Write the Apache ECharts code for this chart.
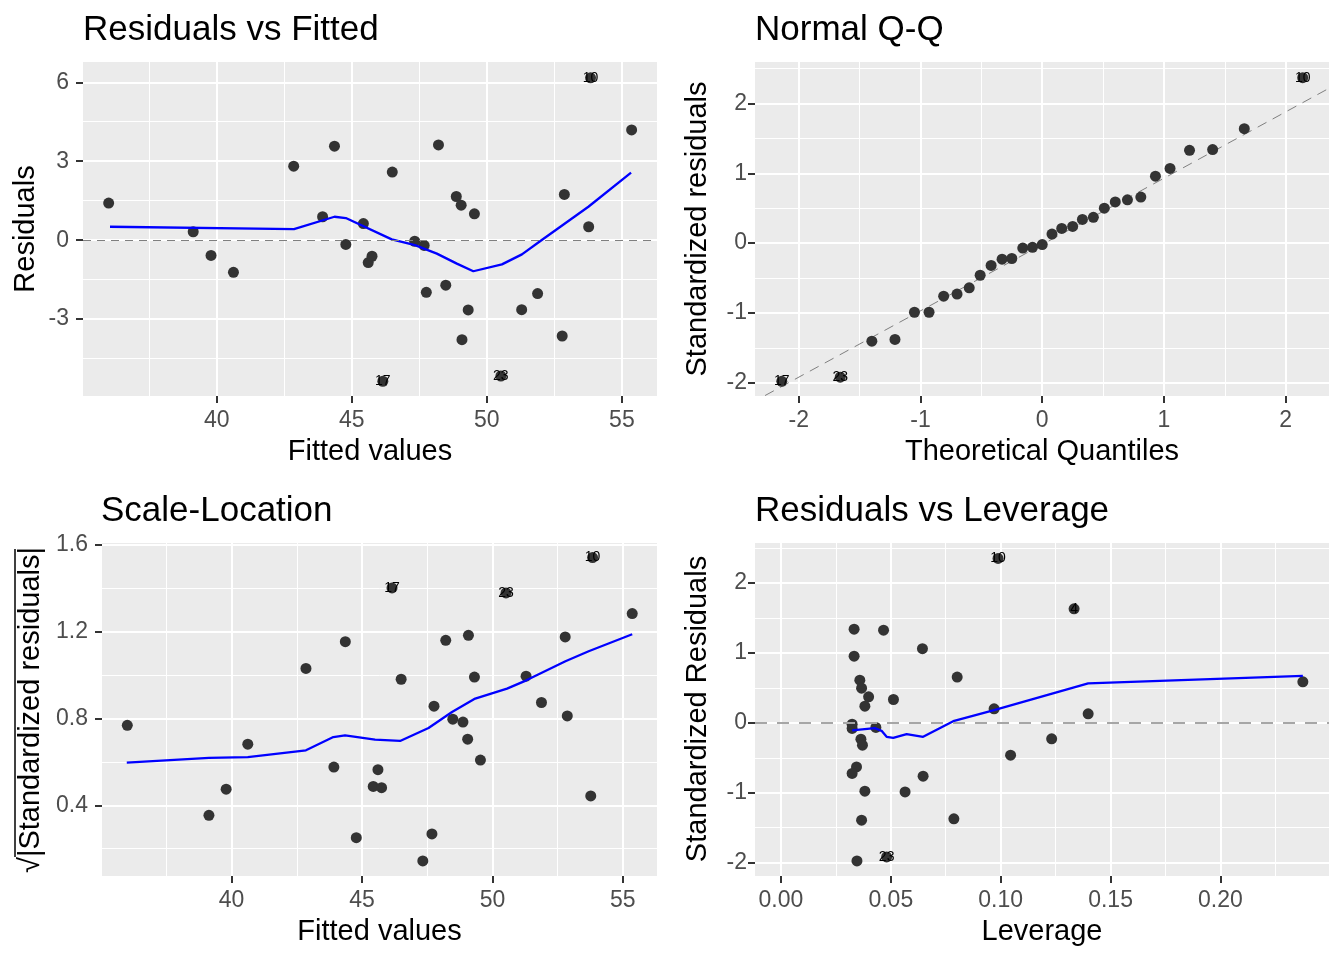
<!DOCTYPE html>
<html><head><meta charset="utf-8">
<script src="https://cdn.jsdelivr.net/npm/echarts@6/dist/echarts.min.js"></script>
<style>html,body{margin:0;padding:0;background:#fff}#c{width:1344px;height:960px}</style>
</head><body><div id="c"></div>
<script>
// ---- Data ----
const fitted = [36.00,39.13,39.79,40.62,42.85,43.92,44.36,44.78,45.43,45.61,45.75,46.15,46.50,47.33,47.68,47.76,48.21,48.48,48.87,49.05,49.08,49.31,49.54,50.52,51.29,51.88,52.79,52.87,53.77,53.84,55.36];
const residuals = [1.41,0.32,-0.58,-1.22,2.81,0.89,3.57,-0.16,0.63,-0.85,-0.61,-5.36,2.59,-0.04,-0.20,-1.98,3.62,-1.71,1.66,1.33,-3.78,-2.65,1.00,-5.16,-2.64,-2.03,-3.64,1.74,0.51,6.17,4.19];
const sqrtStdResid = [0.768,0.354,0.474,0.681,1.03,0.576,1.153,0.251,0.487,0.564,0.481,1.40,0.98,0.144,0.268,0.856,1.159,0.796,0.783,0.704,1.182,0.99,0.608,1.377,0.994,0.873,1.175,0.811,0.443,1.54,1.282];
const obsLabels = [null,null,null,null,null,null,null,null,null,null,null,'17',null,null,null,null,null,null,null,null,null,null,null,'23',null,null,null,null,null,'10',null];

const theoQuantiles = [-2.14,-1.66,-1.40,-1.21,-1.05,-0.93,-0.81,-0.70,-0.60,-0.51,-0.42,-0.33,-0.25,-0.16,-0.08,0,0.08,0.16,0.25,0.33,0.42,0.51,0.60,0.70,0.81,0.93,1.05,1.21,1.40,1.66,2.14];
const qqStdResid = [-1.98,-1.92,-1.405,-1.38,-0.99,-0.99,-0.76,-0.73,-0.64,-0.46,-0.32,-0.23,-0.22,-0.07,-0.06,-0.02,0.13,0.21,0.24,0.34,0.37,0.50,0.59,0.62,0.66,0.96,1.07,1.33,1.34,1.64,2.37];
const qqLabels = ['17','23',null,null,null,null,null,null,null,null,null,null,null,null,null,null,null,null,null,null,null,null,null,null,null,null,null,null,null,null,'10'];
const qqLineX = [-2.4, 2.4];
const qqLineY = [-2.30, 2.26];

const leverage = [0.0333,0.0467,0.0644,0.0333,0.0802,0.0359,0.0367,0.0399,0.0512,0.0382,0.0970,0.0324,0.0324,0.0432,0.0364,0.0371,0.0344,0.0324,0.0647,0.0382,0.0565,0.0367,0.0787,0.0346,0.0481,0.0988,0.1045,0.1232,0.1398,0.1334,0.2375];
const levStdResid = [1.34,1.326,1.06,0.954,0.654,0.61,0.496,0.372,0.334,0.239,0.20,-0.019,-0.08,-0.066,-0.233,-0.319,-0.63,-0.724,-0.763,-0.977,-0.987,-1.392,-1.373,-1.974,-1.917,2.352,-0.462,-0.229,0.129,1.631,0.587];
const levLabels = [null,null,null,null,null,null,null,null,null,null,null,null,null,null,null,null,null,null,null,null,null,null,null,null,'23','10',null,null,null,'4',null];

const smoothFittedX = [36.05,42.86,44.36,44.78,46.48,47.34,48.15,48.89,49.50,50.56,51.30,51.97,53.76,55.34];
const smoothResidY  = [0.51,0.42,0.89,0.84,0.03,-0.19,-0.51,-0.89,-1.18,-0.92,-0.54,-0.04,1.27,2.57];
const smoothScaleX = [35.98,39.13,40.62,42.85,43.90,44.35,45.50,46.46,47.55,48.45,49.34,50.56,51.30,52.80,53.69,55.36];
const smoothScaleY = [0.596,0.618,0.622,0.653,0.714,0.722,0.702,0.696,0.756,0.829,0.891,0.937,0.975,1.063,1.109,1.187];
const smoothLevX = [0.0324,0.0427,0.0458,0.0481,0.0511,0.0572,0.0647,0.0784,0.0970,0.1398,0.2375];
const smoothLevY = [-0.109,-0.076,-0.114,-0.200,-0.214,-0.162,-0.200,0.024,0.182,0.564,0.672];

const fittedTicks = [40,45,50,55];
const residTicks = [-3,0,3,6];
const qqXTicks = [-2,-1,0,1,2];
const qqYTicks = [-2,-1,0,1,2];
const scaleYTicks = [0.4,0.8,1.2,1.6];
const levXTicks = [0,0.05,0.10,0.15,0.20];
const levYTicks = [-2,-1,0,1,2];

// ---- Chart ----
const FONT = "'Liberation Sans', Arial, Helvetica, sans-serif";
const zip = (xs, ys, labels) => xs.map((x, i) => ({ value: [x, ys[i]], name: labels ? (labels[i] || '') : '' }));
const pairs = (xs, ys) => xs.map((x, i) => [x, ys[i]]);

function axis(gi, min, max, step, ticks, fmt, margin) {
  return {
    type: 'value', gridIndex: gi, min, max, minInterval: step, maxInterval: step,
    axisLine: { show: false, onZero: false },
    axisTick: { show: true, length: 7, lineStyle: { color: '#333333', width: 2 }, customValues: ticks },
    axisLabel: { customValues: ticks, margin, color: '#4D4D4D', fontSize: 23, fontFamily: FONT, formatter: fmt },
    splitLine: { show: true, lineStyle: { color: '#FFFFFF', width: 2 } },
    minorTick: { show: false, splitNumber: 2 },
    minorSplitLine: { show: true, lineStyle: { color: '#FFFFFF', width: 1 } }
  };
}
const fInt = v => String(Math.round(v));
const f1 = v => v.toFixed(1);
const f2 = v => v.toFixed(2);

const pointStyle = { color: '#333333', opacity: 1 };
const ptLabel = { show: true, position: 'inside', color: '#000', fontSize: 14, fontFamily: FONT, formatter: p => p.name };

function scatter(gi, data) {
  return { type: 'scatter', xAxisIndex: gi, yAxisIndex: gi, data, symbolSize: 11, itemStyle: pointStyle,
    label: ptLabel, silent: true, z: 3 };
}
function smooth(gi, data) {
  return { type: 'line', xAxisIndex: gi, yAxisIndex: gi, data, showSymbol: false, symbol: 'none',
    lineStyle: { color: '#0000FF', width: 2.3 }, silent: true, z: 4, clip: true };
}
function zeroLine(gi, color, width, dash) {
  return { type: 'line', xAxisIndex: gi, yAxisIndex: gi, data: [], silent: true, z: 2,
    markLine: { silent: true, symbol: ['none', 'none'], label: { show: false }, animation: false,
      lineStyle: { color, width, type: dash }, data: [{ yAxis: 0 }] } };
}

function txt(x, y, text, size, align, rot) {
  return { type: 'text', x, y, rotation: rot || 0, silent: true,
    style: { text, fill: '#000', fontSize: size, fontFamily: FONT, textAlign: align, textVerticalAlign: 'middle' } };
}

const option = {
  animation: false,
  backgroundColor: '#FFFFFF',
  grid: [
    { left: 83, top: 62, width: 574, height: 334 },
    { left: 755, top: 62, width: 574, height: 334 },
    { left: 102, top: 543, width: 555, height: 333 },
    { left: 755, top: 543, width: 574, height: 333 }
  ].map(g => Object.assign(g, { show: true, backgroundColor: '#EBEBEB', borderWidth: 0, containLabel: false, outerBoundsMode: 'none' })),
  xAxis: [
    axis(0, 35.05, 56.3, 5, fittedTicks, fInt, 13),
    axis(1, -2.36, 2.356, 1, qqXTicks, fInt, 13),
    axis(2, 35.03, 56.31, 5, fittedTicks, fInt, 13),
    axis(3, -0.0118, 0.2494, 0.05, levXTicks, f2, 13)
  ],
  yAxis: [
    axis(0, -5.92, 6.77, 3, residTicks, fInt, 14),
    axis(1, -2.19, 2.595, 1, qqYTicks, fInt, 8),
    axis(2, 0.0746, 1.607, 0.4, scaleYTicks, f1, 14),
    axis(3, -2.19, 2.572, 1, levYTicks, fInt, 8)
  ],
  series: [
    zeroLine(0, '#7F7F7F', 1, [8, 6]),
    scatter(0, zip(fitted, residuals, obsLabels)),
    smooth(0, pairs(smoothFittedX, smoothResidY)),

    { type: 'line', xAxisIndex: 1, yAxisIndex: 1, data: pairs(qqLineX, qqLineY), showSymbol: false, symbol: 'none',
      lineStyle: { color: '#7F7F7F', width: 1, type: [10, 7] }, silent: true, z: 2, clip: true },
    scatter(1, zip(theoQuantiles, qqStdResid, qqLabels)),

    scatter(2, zip(fitted, sqrtStdResid, obsLabels)),
    smooth(2, pairs(smoothScaleX, smoothScaleY)),

    zeroLine(3, '#A6A6A6', 2, [12, 10]),
    scatter(3, zip(leverage, levStdResid, levLabels)),
    smooth(3, pairs(smoothLevX, smoothLevY))
  ],
  graphic: [
    txt(83, 30.5, 'Residuals vs Fitted', 35, 'left'),
    txt(755, 30.5, 'Normal Q-Q', 35, 'left'),
    txt(101, 511, 'Scale-Location', 35, 'left'),
    txt(755, 511, 'Residuals vs Leverage', 35, 'left'),
    txt(370, 452, 'Fitted values', 29, 'center'),
    txt(1042, 452, 'Theoretical Quantiles', 29, 'center'),
    txt(379.5, 932, 'Fitted values', 29, 'center'),
    txt(1042, 932, 'Leverage', 29, 'center'),
    txt(25.5, 229, 'Residuals', 29, 'center', Math.PI / 2),
    txt(697.5, 229, 'Standardized residuals', 29, 'center', Math.PI / 2),
    txt(31, 710, '√|Standardized residuals|', 29, 'center', Math.PI / 2),
    txt(698, 709, 'Standardized Residuals', 29, 'center', Math.PI / 2),
    { type: 'line', silent: true, shape: { x1: 15, y1: 857, x2: 15, y2: 549 }, style: { stroke: '#000', lineWidth: 1.5 } }
  ]
};

const chart = echarts.init(document.getElementById('c'), null, { renderer: 'canvas' });
chart.setOption(option);
</script>
</body></html>
